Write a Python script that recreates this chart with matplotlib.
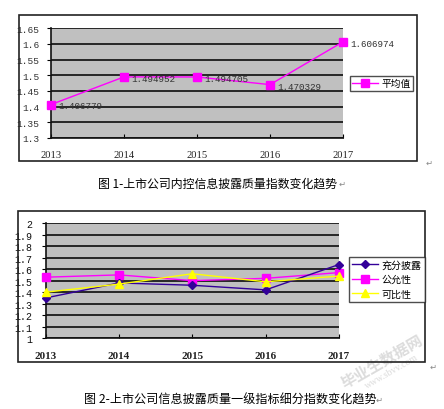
import matplotlib
matplotlib.use("Agg")
import matplotlib.pyplot as plt
from matplotlib.patches import Rectangle
from matplotlib.lines import Line2D

plt.rcParams['font.family'] = ['Noto Sans CJK SC', 'DejaVu Sans']

years = ['2013', '2014', '2015', '2016', '2017']

# Chart 1
avg_name = '平均值'
avg_values = [1.406779, 1.494952, 1.494705, 1.470329, 1.606974]
y1_ticks = [1.3, 1.35, 1.4, 1.45, 1.5, 1.55, 1.6, 1.65]

# Chart 2
series_names = ['充分披露', '公允性', '可比性']
chongfen = [1.35, 1.48, 1.46, 1.42, 1.64]
gongyun = [1.53, 1.55, 1.50, 1.52, 1.57]
kebi = [1.40, 1.47, 1.56, 1.49, 1.54]
y2_ticks = [1.0, 1.1, 1.2, 1.3, 1.4, 1.5, 1.6, 1.7, 1.8, 1.9, 2.0]

caption1 = '图 1-上市公司内控信息披露质量指数变化趋势'
caption2 = '图 2-上市公司信息披露质量一级指标细分指数变化趋势'

W, H = 444, 410
fig = plt.figure(figsize=(W / 100, H / 100), dpi=100)
fig.patch.set_facecolor('white')


def box(x0, y0, x1, y1):
    return [x0 / W, (H - y1) / H, (x1 - x0) / W, (y1 - y0) / H]


def frame(x0, y0, x1, y1, lw=1.2):
    fig.patches.append(Rectangle((x0 / W, (H - y1) / H), (x1 - x0) / W, (y1 - y0) / H,
                                 transform=fig.transFigure, fill=False,
                                 edgecolor='#222222', linewidth=lw, zorder=0))


def style_axes(ax, yticks, ylabel_color, ysize, yearbold, yearsize, ypad, xpad):
    ax.set_facecolor('#C0C0C0')
    ax.set_xlim(0, len(years) - 1)
    ax.set_ylim(yticks[0], yticks[-1])
    ax.set_yticks(yticks)
    ax.set_yticklabels([('%g' % v) for v in yticks], family='Liberation Mono',
                       fontsize=ysize, color=ylabel_color)
    ax.set_xticks(range(len(years)))
    ax.set_xticklabels(years, family='Liberation Serif', fontsize=yearsize,
                       fontweight='bold' if yearbold else 'normal', color='#222222')
    ax.yaxis.grid(True, color='#1a1a1a', linewidth=1.3)
    ax.set_axisbelow(True)
    for s in ['top', 'right']:
        ax.spines[s].set_visible(False)
    ax.spines['left'].set_color('#111111')
    ax.spines['bottom'].set_color('#111111')
    ax.spines['left'].set_linewidth(1.2)
    ax.spines['bottom'].set_linewidth(1.2)
    ax.tick_params(axis='y', length=3, width=0.8, pad=ypad, direction='out')
    ax.tick_params(axis='x', length=3, width=0.8, pad=xpad, direction='in')


# ---------------- Chart 1 ----------------
frame(19, 16, 417, 162)
ax1 = fig.add_axes(box(51, 29.3, 343, 139))
style_axes(ax1, y1_ticks, '#333333', 6.8, False, 7.6, 5.5, 9.0)
xs = list(range(len(years)))
ax1.plot(xs, avg_values, color='#FF00FF', linewidth=1.0, marker='s',
         markersize=6, markerfacecolor='#FF00FF', markeredgecolor='#FF00FF',
         clip_on=False, zorder=5, label=avg_name)
for x, v in zip(xs, avg_values):
    ax1.annotate('%.6f' % v, (x, v), xytext=(5, -1), textcoords='offset points',
                 ha='left', va='center', family='Liberation Mono', fontsize=6.7,
                 color='#333333', zorder=6, annotation_clip=False)

h1 = [Line2D([0], [0], color='#FF00FF', lw=1.0, marker='s', markersize=6)]
leg1 = fig.legend(h1, [avg_name], loc='center',
                  bbox_to_anchor=(381.5 / W, (H - 84.2) / H),
                  frameon=True, fancybox=False, edgecolor='#222222',
                  fontsize=7, handlelength=2.6, handletextpad=0.4,
                  borderpad=0.25, borderaxespad=0)
leg1.get_frame().set_linewidth(1.0)

fig.text(217.5 / W, (H - 184.5) / H, caption1, ha='center', va='center',
         fontsize=8.6, color='black')
fig.text(339 / W, (H - 184) / H, '↵', ha='left', va='center', fontsize=6,
         color='#888888', family='DejaVu Sans')
fig.text(426 / W, (H - 163) / H, '↵', ha='left', va='center', fontsize=6,
         color='#888888', family='DejaVu Sans')

# ---------------- Chart 2 ----------------
frame(18, 212, 425, 363)
ax2 = fig.add_axes(box(45.7, 224, 339, 339.3))
style_axes(ax2, y2_ticks, '#111111', 7.2, True, 8, 6.5, 9.0)
ax2.plot(xs, chongfen, color='#330099', linewidth=1.0, marker='D', markersize=4,
         markerfacecolor='#330099', markeredgecolor='#330099', clip_on=False,
         zorder=5, label=series_names[0])
ax2.plot(xs, gongyun, color='#FF00FF', linewidth=1.0, marker='s', markersize=6,
         markerfacecolor='#FF00FF', markeredgecolor='#FF00FF', clip_on=False,
         zorder=4, label=series_names[1])
ax2.plot(xs, kebi, color='#FFFF00', linewidth=1.0, marker='^', markersize=6,
         markerfacecolor='#FFFF00', markeredgecolor='#FFFF00', clip_on=False,
         zorder=6, label=series_names[2])

h2, l2 = ax2.get_legend_handles_labels()
leg2 = fig.legend(h2, l2, loc='center',
                  bbox_to_anchor=(386.5 / W, (H - 280) / H),
                  frameon=True, fancybox=False, edgecolor='#222222',
                  fontsize=7.2, handlelength=2.6, handletextpad=0.4,
                  borderpad=0.3, labelspacing=0.45, borderaxespad=0)
leg2.get_frame().set_linewidth(1.0)

fig.text(230 / W, (H - 400) / H, caption2, ha='center', va='center',
         fontsize=8.7, color='black')
fig.text(376 / W, (H - 400) / H, '↵', ha='left', va='center', fontsize=6,
         color='#888888', family='DejaVu Sans')
fig.text(430 / W, (H - 367) / H, '↵', ha='left', va='center', fontsize=6,
         color='#888888', family='DejaVu Sans')

# faint watermark
fig.text(382 / W, (H - 362) / H, '毕业生数据网', ha='center', va='center',
         fontsize=11, color='#dcdcdc', rotation=30, fontweight='bold', zorder=-1)
fig.text(392 / W, (H - 372) / H, 'www.sbvv.com', ha='center', va='center',
         fontsize=7, color='#dcdcdc', rotation=30, family='Liberation Serif', zorder=-1)

fig.savefig('out.png', dpi=100, facecolor='white')
